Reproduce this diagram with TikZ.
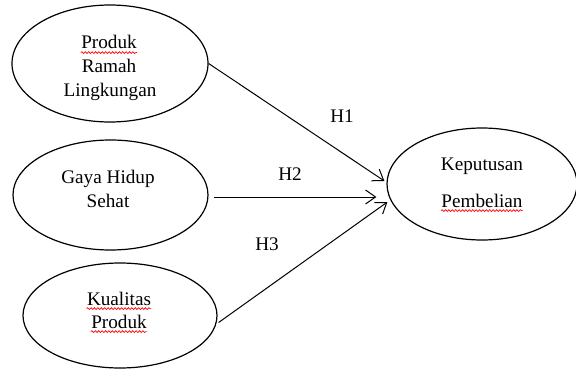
\documentclass[tikz,border=0pt]{standalone}
\usepackage{fontspec}
\setmainfont{Liberation Serif}
\usetikzlibrary{shapes.geometric,arrows.meta,decorations.pathmorphing}

\tikzset{
  var/.style={ellipse,draw,line width=0.6pt,inner sep=0pt},
  word/.style={inner sep=0pt,anchor=base,font=\fontsize{9.6}{12}\selectfont},
  arr/.style={line width=0.5pt,-{Straight Barb[length=5pt,width=7pt]}},
  squig/.style={red,line width=0.35pt,decorate,
    decoration={snake,amplitude=0.45pt,segment length=1.7pt}}
}

\begin{document}
\begin{tikzpicture}[x=0.5pt,y=-0.5pt]
\useasboundingbox (0,0) rectangle (576,369);

% variabel bebas
\node [var,minimum width=98pt,minimum height=58.5pt] (prl) at (110,63.5) {};
\node [var,minimum width=97.5pt,minimum height=55pt] (ghs) at (110.5,195) {};
\node [var,minimum width=97pt,minimum height=52.5pt] (kp) at (120,315.5) {};
% variabel terikat
\node [var,minimum width=95pt,minimum height=56pt] (kpb) at (482,184) {};

\node [word] (prl1) at (109,49) {Produk};
\node [word] (prl2) at (109,73) {Ramah};
\node [word] (prl3) at (110,97) {Lingkungan};
\node [word] (ghs1) at (108,183) {Gaya Hidup};
\node [word] (ghs2) at (108,207) {Sehat};
\node [word] (kp1) at (119,305) {Kualitas};
\node [word] (kp2) at (119,328) {Produk};
\node [word] (kpb1) at (482,170) {Keputusan};
\node [word] (kpb2) at (482,207) {Pembelian};

% garis ejaan
\foreach \w in {prl1,kp1,kp2,kpb2}
  \draw [squig] ([yshift=-1.8pt]\w.base west) -- ([yshift=-1.8pt]\w.base east);

% hipotesis
\draw [arr] (prl.east) -- ([xshift=-1pt,yshift=1.5pt]kpb.west);
\draw [arr] ([xshift=2.5pt,yshift=-1pt]ghs.east) -- ([xshift=-5pt,yshift=-6.5pt]kpb.west);
\draw [arr] ([xshift=0.5pt,yshift=-3.5pt]kp.east) -- ([xshift=0.5pt,yshift=-9pt]kpb.west);

\node [word] (h1) at (342,122) {H1};
\node [word] (h2) at (290,180) {H2};
\node [word] (h3) at (267,250) {H3};
\end{tikzpicture}
\end{document}
